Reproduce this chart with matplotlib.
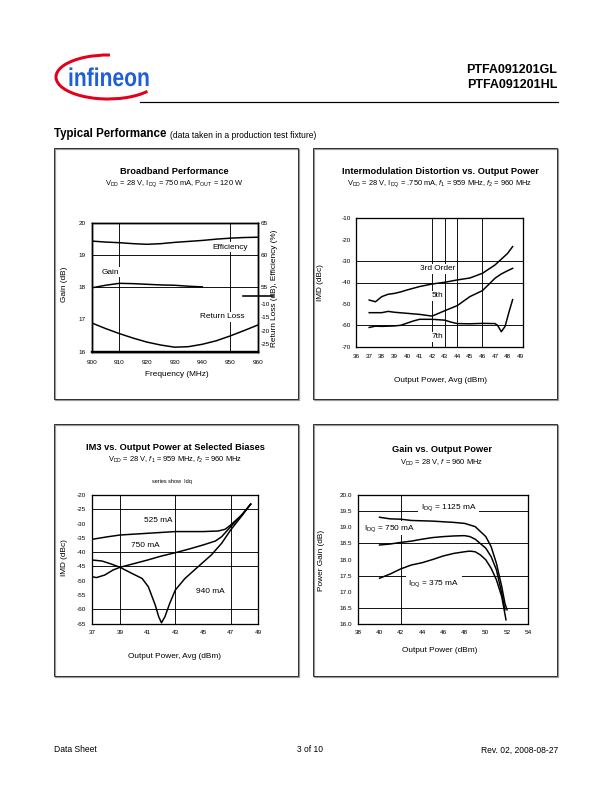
import matplotlib
matplotlib.use("Agg")
import matplotlib.pyplot as plt
from matplotlib.patches import Rectangle, Arc, PathPatch
from matplotlib.textpath import TextPath
from matplotlib.font_manager import FontProperties
from matplotlib.transforms import Affine2D

plt.rcParams['font.family'] = ['Liberation Sans', 'DejaVu Sans']
plt.rcParams['mathtext.fontset'] = 'custom'
plt.rcParams['mathtext.rm'] = 'Liberation Sans'
plt.rcParams['mathtext.it'] = 'Liberation Sans:italic'
plt.rcParams['axes.unicode_minus'] = False

# ---- Broadband Performance (VDD 28 V, IDQ 750 mA, POUT 120 W)
bb_freq = [900, 905, 910, 915, 920, 925, 930, 935, 940, 945, 950, 955, 960]
bb_eff = [62.15, 62.0, 61.9, 61.75, 61.65, 61.75, 61.95, 62.1, 62.25, 62.45, 62.6, 62.7, 62.75]
bb_rl = [-17.1, -19.2, -21.1, -22.8, -24.3, -25.4, -26.2, -26.0, -25.1, -23.8, -22.0, -20.0, -17.9]
bb_gain_freq = [900, 905, 910, 915, 920, 925, 930, 935, 940]
bb_gain = [17.98, 18.06, 18.12, 18.11, 18.09, 18.07, 18.06, 18.03, 18.01]
bb_xlabels = ['900', '910', '920', '930', '940', '950', '960']

# ---- Intermodulation distortion vs output power
imd3_p = [37, 37.5, 38, 38.5, 39, 39.5, 40, 41, 42, 43, 44, 45, 46, 47, 48, 48.4]
imd3 = [-48.2, -49, -46.6, -45.5, -45.1, -44.4, -43.5, -41.9, -40.7, -39.9, -38.8, -37.9, -35.7, -31.8, -26.4, -23.2]
imd5_p = [37, 38, 38.5, 39, 40, 41, 42, 43, 44, 45, 46, 47, 47.5, 48, 48.4]
imd5 = [-54.1, -54.1, -53.5, -53.9, -54.4, -54.9, -55.7, -53.2, -50.8, -46.6, -43.8, -38, -36, -34.5, -33.4]
imd7_p = [37, 37.5, 38, 39, 39.5, 40, 40.5, 41, 42, 43, 43.5, 44, 45, 46, 47, 47.2, 47.5, 47.8, 48.1, 48.4]
imd7 = [-61, -60.4, -60.5, -60.3, -60, -59, -58, -57.2, -57.2, -57.6, -58.5, -59.2, -59.3, -59.1, -59.2, -60, -63, -60.5, -54, -48]

# ---- IM3 at selected biases
im3_525_p = [37, 38, 39, 40, 41, 42, 43, 44, 45, 46.1, 46.6, 47, 47.8, 48.45]
im3_525 = [-35.5, -34.7, -34, -33.7, -33.4, -33.1, -32.8, -32.8, -32.8, -32.6, -32, -30.5, -27, -23.2]
im3_750_p = [37, 37.3, 37.9, 38.5, 39, 40.1, 41, 42, 43, 44, 45, 45.9, 46.35, 47, 47.8, 48.45]
im3_750 = [-48.6, -48.9, -48, -46.25, -45.3, -43.9, -42.75, -41.35, -40.2, -38.9, -37.5, -36.1, -34.6, -31.1, -27, -23.2]
im3_940_p = [37, 37.7, 38.4, 39, 39.85, 40.6, 41.05, 41.55, 41.8, 42, 42.25, 42.6, 43, 43.7, 44.6, 45.6, 46.35, 47, 47.8, 48.45]
im3_940 = [-42.75, -43.1, -44.2, -45.3, -47.4, -49.2, -52.1, -58.5, -62.6, -64.7, -62.6, -57.9, -53.25, -49.2, -45.3, -41, -36.9, -32.25, -27.35, -23.2]

# ---- Gain vs output power
g1125_p = [40, 41, 42, 43, 44, 45, 46, 47, 48, 49, 50, 50.5, 51, 51.5, 51.8, 52]
g1125 = [19.31, 19.26, 19.25, 19.21, 19.2, 19.19, 19.17, 19.15, 19.12, 19.02, 18.71, 18.4, 17.88, 17.16, 16.64, 16.44]
g750_p = [40, 41, 42, 43, 44, 45, 46, 47, 48, 48.5, 49, 50, 50.5, 51, 51.5, 51.8]
g750 = [18.45, 18.48, 18.53, 18.57, 18.63, 18.68, 18.71, 18.73, 18.74, 18.71, 18.63, 18.35, 18.09, 17.68, 16.95, 16.44]
g375_p = [40, 41, 42, 43, 44, 45, 46, 47, 48, 48.5, 49, 49.5, 50, 50.5, 51, 51.5, 51.9]
g375 = [17.42, 17.55, 17.71, 17.83, 17.9, 18.0, 18.11, 18.19, 18.24, 18.26, 18.24, 18.14, 17.99, 17.73, 17.37, 16.85, 16.13]

LW = 1.5
GRID = dict(color='black', lw=0.9, zorder=1)
BOX = dict(fc='white', ec='none', pad=1.5)
TICK = 6.4
LAB = 8.2


def px_rect(l, t, r, b):
    return [l / 612, 1 - b / 792, (r - l) / 612, (b - t) / 792]


def style(ax, padx=6, pady=6):
    for s in ax.spines.values():
        s.set_linewidth(1.3)
    ax.tick_params(axis='x', length=0, labelsize=TICK, pad=padx)
    ax.tick_params(axis='y', length=0, labelsize=TICK, pad=pady)


fig = plt.figure(figsize=(8.5, 11), dpi=72)
page = fig.add_axes([0, 0, 1, 1])
page.set_xlim(0, 612)
page.set_ylim(792, 0)
page.axis('off')

# page furniture: logo
page.add_patch(Arc((108, 77), 104, 44, theta1=20, theta2=275, color='#e2001a', lw=3))
logo = TextPath((0, 0), 'infineon', size=27, prop=FontProperties(family='Liberation Sans', weight='bold'))
page.add_patch(PathPatch(logo, fc='#1f5fd6', ec='none',
                         transform=Affine2D().scale(0.78, -0.95).translate(68, 86) + page.transData))
page.text(557, 70, 'PTFA091201GL', ha='right', va='center', fontsize=12.5, weight='bold')
page.text(557, 84.5, 'PTFA091201HL', ha='right', va='center', fontsize=12.5, weight='bold')
page.plot([139.6, 558], [102.4, 102.4], color='black', lw=1.2)
page.text(54, 137.5, 'Typical Performance', fontsize=11.5, weight='bold', va='baseline')
page.text(170.5, 137.5, '(data taken in a production test fixture)', fontsize=8.5, va='baseline')
page.text(54, 750, 'Data Sheet', fontsize=8.5, va='center')
page.text(310, 750, '3 of 10', fontsize=8.5, va='center', ha='center')
page.text(558, 750, 'Rev. 02, 2008-08-27', fontsize=8.5, va='center', ha='right')

for x0, y0, x1, y1 in [(54, 148, 298, 399), (313, 148, 557, 399),
                       (54, 424, 298, 676), (313, 424, 557, 676)]:
    page.add_patch(Rectangle((x0 + 1.2, y0 + 1.2), x1 - x0, y1 - y0, fill=False, ec='#9a9a9a', lw=1.2))
    page.add_patch(Rectangle((x0, y0), x1 - x0, y1 - y0, fill=False, ec='#333333', lw=1.0))

# titles and axis labels
page.text(174, 171, 'Broadband Performance', ha='center', va='center', fontsize=9.3, weight='bold')
page.text(174, 183.5, r'V$_{\mathrm{DD}}$ = 28 V, I$_{\mathrm{DQ}}$ = 750 mA, P$_{\mathrm{OUT}}$ = 120 W',
          ha='center', va='center', fontsize=7.5)
page.text(177, 374, 'Frequency (MHz)', ha='center', va='center', fontsize=LAB)
page.text(65, 284, 'Gain (dB)', ha='center', va='center', fontsize=LAB, rotation=90)
page.text(275, 288, 'Return Loss (dB), Efficiency (%)', ha='center', va='center', fontsize=LAB, rotation=90)

page.text(440, 171, 'Intermodulation Distortion vs. Output Power', ha='center', va='center', fontsize=9.3, weight='bold')
page.text(440, 183.5, r'V$_{\mathrm{DD}}$ = 28 V, I$_{\mathrm{DQ}}$ = .750 mA, $f_1$ = 959 MHz, $f_2$ = 960 MHz',
          ha='center', va='center', fontsize=7.5)
page.text(441, 380, 'Output Power, Avg (dBm)', ha='center', va='center', fontsize=LAB)
page.text(320, 283, 'IMD (dBc)', ha='center', va='center', fontsize=LAB, rotation=90)

page.text(175, 447.7, 'IM3 vs. Output Power at Selected Biases', ha='center', va='center', fontsize=9.3, weight='bold')
page.text(175, 460, r'V$_{\mathrm{DD}}$ = 28 V, $f_1$ = 959 MHz, $f_2$ = 960 MHz', ha='center', va='center', fontsize=7.5)
page.text(172, 481.7, 'series show  Idq', ha='center', va='center', fontsize=5.5)
page.text(175, 656.7, 'Output Power, Avg (dBm)', ha='center', va='center', fontsize=LAB)
page.text(65, 558, 'IMD (dBc)', ha='center', va='center', fontsize=LAB, rotation=90)

page.text(442, 450, 'Gain vs. Output Power', ha='center', va='center', fontsize=9.3, weight='bold')
page.text(442, 462.7, r'V$_{\mathrm{DD}}$ = 28 V, $f$ = 960 MHz', ha='center', va='center', fontsize=7.5)
page.text(440, 650, 'Output Power (dBm)', ha='center', va='center', fontsize=LAB)
page.text(321.7, 560, 'Power Gain (dB)', ha='center', va='center', fontsize=LAB, rotation=90)

# ---- chart 1
ax1 = fig.add_axes(px_rect(91.7, 222.7, 257.7, 351.7))
ax1.set_xlim(900, 960)
ax1.set_ylim(16, 20)
ax1.set_xticks(range(900, 961, 10))
ax1.set_xticklabels(bb_xlabels)
ax1.set_yticks([16, 17, 18, 19, 20])
style(ax1, padx=8, pady=6)
ax1.spines['bottom'].set_linewidth(2.4)
for g in [18, 19]:
    ax1.axhline(g, **GRID)
for f in [910, 950]:
    ax1.axvline(f, **GRID)
ax1.plot(bb_gain_freq, bb_gain, color='black', lw=LW, zorder=3)
ax1.text(950, 19.24, 'Efficiency', ha='center', va='center', fontsize=LAB, bbox=BOX, zorder=2)
ax1.text(906.6, 18.47, 'Gain', ha='center', va='center', fontsize=LAB, bbox=BOX, zorder=2)
ax1.text(947.2, 17.09, 'Return Loss', ha='center', va='center', fontsize=LAB, bbox=BOX, zorder=2)
ax1.plot([0.91, 1.094], [0.434, 0.434], transform=ax1.transAxes, clip_on=False, color='black', lw=1.6)

eff_ax = ax1.twinx()
eff_ax.set_ylim(45, 65)
eff_ax.set_yticks([55, 60, 65])
style(eff_ax, pady=3)
eff_ax.plot(bb_freq, bb_eff, color='black', lw=LW)

rl_ax = ax1.twinx()
rl_ax.set_ylim(-27.89, 20.49)
rl_ax.set_yticks([-25, -20, -15, -10])
style(rl_ax, pady=3)
rl_ax.plot(bb_freq, bb_rl, color='black', lw=LW)

# ---- chart 2
ax2 = fig.add_axes(px_rect(356, 218.3, 522.7, 346.7))
ax2.set_xlim(35.95, 49.2)
ax2.set_ylim(-70, -10)
ax2.set_xticks(range(36, 50))
ax2.set_yticks(range(-70, -9, 10))
style(ax2, padx=7, pady=5)
for v in [-30, -40, -60]:
    ax2.axhline(v, **GRID)
for p in [42, 43, 44, 46]:
    ax2.axvline(p, **GRID)
ax2.plot(imd3_p, imd3, color='black', lw=LW, zorder=3)
ax2.plot(imd5_p, imd5, color='black', lw=LW, zorder=3)
ax2.plot(imd7_p, imd7, color='black', lw=LW, zorder=3)
ax2.text(42.45, -33.5, '3rd Order', ha='center', va='center', fontsize=LAB, bbox=BOX, zorder=2)
ax2.text(42.45, -46.1, '5th', ha='center', va='center', fontsize=LAB, bbox=BOX, zorder=2)
ax2.text(42.45, -65.3, '7th', ha='center', va='center', fontsize=LAB, bbox=BOX, zorder=2)

# ---- chart 3
ax3 = fig.add_axes(px_rect(92.3, 495, 258.3, 623.6))
ax3.set_xlim(37, 49)
ax3.set_ylim(-65, -20)
ax3.set_xticks(range(37, 50, 2))
ax3.set_yticks(range(-65, -19, 5))
style(ax3, padx=6, pady=6)
for v in [-25, -40, -45, -60]:
    ax3.axhline(v, **GRID)
for p in [39, 43, 47]:
    ax3.axvline(p, **GRID)
ax3.plot(im3_525_p, im3_525, color='black', lw=LW, zorder=3)
ax3.plot(im3_750_p, im3_750, color='black', lw=LW, zorder=3)
ax3.plot(im3_940_p, im3_940, color='black', lw=LW, zorder=3)
ax3.text(41.8, -29, '525 mA', ha='center', va='center', fontsize=LAB, bbox=BOX, zorder=2)
ax3.text(40.8, -37.7, '750 mA', ha='center', va='center', fontsize=LAB, bbox=BOX, zorder=2)
ax3.text(45.5, -53.6, '940 mA', ha='center', va='center', fontsize=LAB, bbox=BOX, zorder=2)

# ---- chart 4
ax4 = fig.add_axes(px_rect(358.3, 495, 528.3, 624))
ax4.set_xlim(38, 54)
ax4.set_ylim(16, 20)
ax4.set_xticks(range(38, 55, 2))
ax4.set_yticks([16 + 0.5 * i for i in range(9)])
ax4.set_yticklabels([f'{16 + 0.5 * i:.1f}' for i in range(9)])
style(ax4, padx=6, pady=6)
for v in [19.5, 18.5, 17.5, 16.5]:
    ax4.axhline(v, **GRID)
ax4.axvline(42, **GRID)
ax4.plot(g1125_p, g1125, color='black', lw=LW, zorder=3)
ax4.plot(g750_p, g750, color='black', lw=LW, zorder=3)
ax4.plot(g375_p, g375, color='black', lw=LW, zorder=3)
ax4.text(46.5, 19.62, r'I$_{\mathrm{DQ}}$ = 1125 mA', ha='center', va='center', fontsize=LAB,
         bbox=dict(fc='white', ec='none', pad=2.5), zorder=2)
ax4.text(40.9, 18.97, r'I$_{\mathrm{DQ}}$ = 750 mA', ha='center', va='center', fontsize=LAB,
         bbox=BOX, zorder=2)
ax4.text(45.1, 17.26, r'I$_{\mathrm{DQ}}$ = 375 mA', ha='center', va='center', fontsize=LAB,
         bbox=dict(fc='white', ec='none', pad=2.5), zorder=2)

fig.savefig('out.png', dpi=72)
